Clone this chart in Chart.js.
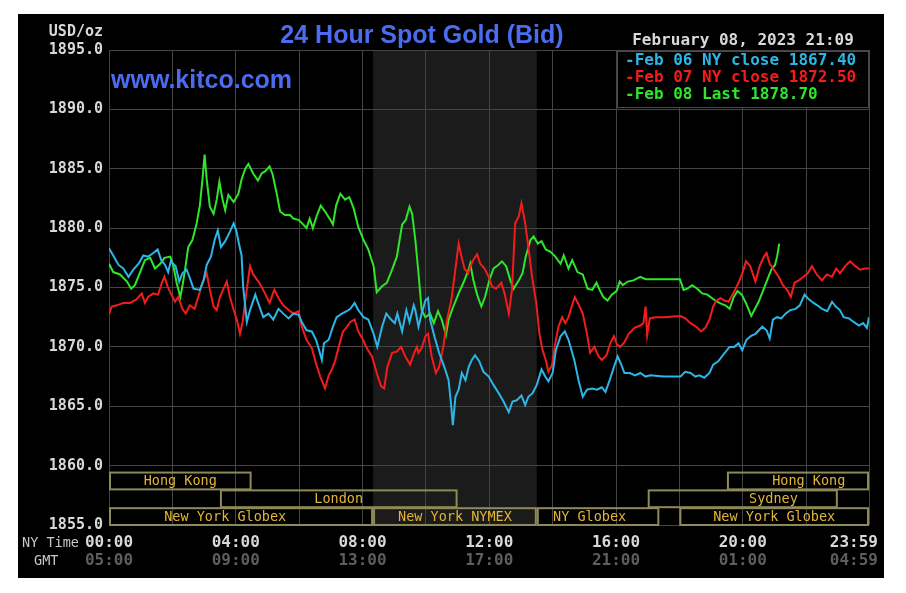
<!DOCTYPE html>
<html>
<head>
<meta charset="utf-8">
<title>24 Hour Spot Gold</title>
<style>
    html, body { margin: 0; padding: 0; background: #fff; }
</style>
<script src="https://cdn.jsdelivr.net/npm/chart.js@4.4.0/dist/chart.umd.min.js"></script>
</head>
<body>
<canvas id="gold-chart" width="906" height="593"></canvas>
<script>
// minutes after NY midnight, price in USD/oz
const feb06Times = [0, 8, 18, 27, 37, 46, 56, 65, 74, 84, 92, 99, 106, 112, 117, 126, 133, 139, 147, 153, 160, 172, 179, 185, 193, 200, 206, 212, 220, 229, 236, 241, 246, 251, 254, 261, 267, 277, 284,
    292, 302, 311, 321, 330, 340, 349, 359, 365, 374, 384, 392, 398, 403, 407, 416, 424, 431, 441, 450, 457, 465, 472, 482, 491, 501, 508, 517, 525, 534, 541, 546, 555, 563, 569, 577,
    580, 586, 592, 599, 604, 608, 616, 625, 635, 643, 648, 651, 656, 662, 668, 675, 681, 687, 693, 701, 709, 719, 728, 738, 747, 757, 764, 772, 781, 788, 794, 802, 810, 819, 826, 832, 840, 846, 855, 863, 870,
    881, 889, 897, 905, 915, 924, 933, 940, 948, 956, 963, 969, 976, 986, 996, 1006, 1016, 1025, 1050, 1082, 1091, 1101, 1110, 1118, 1127, 1137, 1144, 1154,
    1164, 1175, 1184, 1192, 1199, 1207, 1215, 1224, 1237, 1245, 1251, 1257, 1265, 1273, 1281, 1290, 1300, 1308, 1317, 1323, 1331, 1341, 1350, 1360, 1369, 1376, 1384, 1391, 1401, 1410, 1420, 1428, 1435, 1439];
const feb06Values = [1878.3, 1877.7, 1876.9, 1876.6, 1875.9, 1876.5, 1877.0, 1877.7, 1877.6, 1877.9, 1878.2, 1877.3, 1876.9, 1876.3, 1877.2, 1876.8, 1875.5, 1876.2, 1876.5, 1875.8, 1874.9, 1874.8, 1875.6, 1876.9, 1877.6, 1879.0, 1879.8, 1878.4, 1878.9, 1879.7, 1880.4, 1879.8, 1878.7, 1877.7, 1875.1, 1872.1, 1873.1, 1874.4, 1873.5,
    1872.5, 1872.8, 1872.3, 1873.2, 1872.8, 1872.4, 1872.8, 1872.7, 1872.1, 1871.4, 1871.3, 1870.6, 1869.7, 1868.9, 1870.3, 1870.6, 1871.7, 1872.5, 1872.8, 1873.0, 1873.2, 1873.7, 1873.1, 1872.5, 1872.3, 1871.1, 1870.0, 1871.7, 1872.8, 1872.3, 1872.0, 1872.8, 1871.3, 1873.1, 1872.1, 1873.5,
    1873.1, 1871.7, 1872.8, 1873.9, 1874.1, 1872.3, 1870.9, 1869.5, 1868.3, 1867.2, 1865.0, 1863.4, 1865.8, 1866.4, 1867.8, 1867.2, 1868.3, 1868.9, 1869.3, 1868.8, 1867.9, 1867.5, 1866.8, 1866.1, 1865.4, 1864.5, 1865.4, 1865.5, 1865.9, 1865.1, 1865.8, 1866.1, 1866.8, 1868.1, 1867.5, 1867.1, 1867.8, 1869.7, 1870.9, 1871.3, 1870.6,
    1868.9, 1867.2, 1865.8, 1866.4, 1866.5, 1866.4, 1866.6, 1866.2, 1867.2, 1868.3, 1869.2, 1868.6, 1867.8, 1867.8, 1867.6, 1867.8, 1867.5, 1867.6, 1867.5, 1867.5, 1867.9, 1867.8, 1867.5, 1867.6, 1867.4, 1867.8, 1868.5, 1868.8,
    1869.4, 1870.0, 1870.0, 1870.3, 1869.7, 1870.6, 1870.9, 1871.1, 1871.7, 1871.4, 1870.7, 1872.3, 1872.5, 1872.4, 1872.8, 1873.1, 1873.2, 1873.5, 1874.4, 1874.1, 1873.8, 1873.5, 1873.2, 1873.0, 1873.8, 1873.4, 1873.1, 1872.5, 1872.4, 1872.1, 1871.8, 1872.0, 1871.6, 1872.5];

const feb07Times = [0, 5, 15, 27, 40, 52, 62, 68, 74, 84, 93, 100, 105, 111, 117, 125, 131, 139, 145, 153, 162, 169, 177, 185, 191, 198, 204, 210, 217, 223, 229, 236, 242, 248, 253, 259, 267, 273, 283,
    292, 304, 313, 321, 330, 340, 349, 359, 365, 374, 384, 392, 400, 409, 416, 422, 428, 435, 443, 449, 457, 465, 472, 481, 488, 498, 507, 515, 521, 527, 536, 545, 553, 561, 570, 578, 583,
    586, 592, 599, 604, 611, 619, 625, 633, 640, 648, 654, 662, 667, 673, 680, 688, 697, 703, 711, 719, 725, 733, 743, 749, 757, 763, 769, 776, 781, 788, 794, 801, 809, 815, 821, 827, 832, 839, 845, 851, 858, 864, 870, 876, 882,
    891, 897, 905, 911, 919, 927, 933, 942, 949, 956, 962, 968, 976, 984, 995, 1006, 1012, 1016, 1019, 1024, 1035, 1050, 1082, 1091, 1101, 1112, 1121, 1129, 1137, 1144, 1150, 1158, 1165, 1173,
    1183, 1192, 1200, 1206, 1214, 1224, 1232, 1240, 1245, 1251, 1259, 1268, 1276, 1284, 1291, 1298, 1306, 1315, 1323, 1331, 1340, 1350, 1359, 1369, 1377, 1384, 1394, 1403, 1413, 1422, 1431, 1439];
const feb07Values = [1872.7, 1873.4, 1873.5, 1873.7, 1873.7, 1874.0, 1874.5, 1873.7, 1874.2, 1874.5, 1874.4, 1875.4, 1875.9, 1875.1, 1874.5, 1873.8, 1874.2, 1873.2, 1872.8, 1873.5, 1873.2, 1874.2, 1875.4, 1876.2, 1874.8, 1873.4, 1873.1, 1874.2, 1874.9, 1875.5, 1874.2, 1873.1, 1872.3, 1871.1, 1872.1, 1874.2, 1876.8, 1876.1, 1875.5,
    1874.8, 1873.7, 1874.8, 1874.1, 1873.5, 1873.1, 1872.8, 1873.0, 1871.7, 1870.6, 1869.9, 1868.6, 1867.5, 1866.5, 1867.6, 1868.1, 1868.8, 1870.0, 1871.3, 1871.6, 1872.1, 1872.3, 1871.3, 1870.6, 1869.9, 1869.2, 1867.8, 1866.7, 1866.5, 1868.3, 1869.5, 1869.6, 1870.0, 1869.2, 1868.5, 1869.5, 1870.0,
    1869.5, 1869.9, 1870.9, 1871.1, 1869.2, 1867.8, 1868.3, 1870.0, 1872.3, 1873.9, 1875.9, 1878.7, 1877.7, 1876.6, 1876.2, 1877.2, 1877.8, 1877.0, 1876.6, 1875.9, 1875.1, 1874.9, 1875.4, 1874.5, 1872.8, 1874.8, 1880.4, 1881.0, 1882.1, 1880.4, 1878.4, 1875.9, 1873.7, 1871.1, 1869.7, 1868.9, 1867.9, 1868.5, 1870.3, 1871.7, 1872.5, 1872.0, 1872.5, 1873.4, 1874.2,
    1873.4, 1872.8, 1871.1, 1869.5, 1870.0, 1869.2, 1868.9, 1869.3, 1870.3, 1870.9, 1870.2, 1870.0, 1870.4, 1871.1, 1871.6, 1871.8, 1872.0, 1873.4, 1871.0, 1872.4, 1872.5, 1872.5, 1872.6, 1872.4, 1872.0, 1871.7, 1871.3, 1871.6, 1872.3, 1873.4, 1873.9, 1874.1, 1873.9, 1873.8,
    1874.6, 1875.4, 1876.3, 1877.2, 1876.8, 1875.5, 1876.8, 1877.6, 1877.9, 1877.0, 1876.5, 1875.9, 1875.2, 1874.8, 1874.2, 1875.4, 1875.6, 1875.9, 1876.2, 1876.8, 1876.1, 1875.6, 1876.1, 1875.9, 1876.6, 1876.2, 1876.8, 1877.2, 1876.8, 1876.5, 1876.6, 1876.6];

const feb08Times = [0, 8, 21, 34, 42, 49, 59, 68, 78, 87, 97, 105, 116, 122, 128, 135, 139, 144, 150, 158, 166, 172, 177, 181, 185, 191, 198, 204, 209, 215, 220, 226, 236, 245, 251, 258, 264, 273, 282, 289, 296,
    304, 310, 318, 324, 333, 343, 349, 359, 368, 374, 380, 386, 393, 401, 409, 419, 424, 430, 438, 447, 455, 463, 472, 482, 491, 501, 507, 517, 526, 536, 545, 555, 562, 569, 574, 580,
    586, 592, 599, 608, 615, 623, 630, 638, 643, 652, 662, 671, 681, 684, 690, 697, 705, 712, 720, 728, 737, 744, 752, 760, 766, 776, 783, 789, 798, 804, 812, 819, 827, 836, 845, 855, 861, 870,
    877, 887, 897, 906, 915, 923, 930, 936, 944, 952, 961, 967, 973, 982, 993, 1006, 1016, 1050, 1081, 1088, 1095, 1104, 1114, 1123, 1133, 1142, 1151, 1161,
    1167, 1175, 1183, 1190, 1198, 1206, 1216, 1222, 1230, 1239, 1246, 1254, 1261, 1265, 1269];
const feb08Values = [1877.0, 1876.3, 1876.1, 1875.5, 1874.9, 1875.2, 1876.3, 1877.3, 1877.5, 1876.6, 1877.0, 1877.5, 1877.6, 1876.8, 1875.4, 1874.2, 1875.1, 1876.5, 1878.4, 1879.0, 1880.4, 1881.9, 1884.1, 1886.2, 1884.1, 1881.8, 1881.2, 1882.4, 1883.9, 1882.4, 1881.5, 1882.8, 1882.2, 1882.9, 1884.1, 1885.0, 1885.4, 1884.6, 1884.0, 1884.6, 1884.8,
    1885.2, 1884.5, 1882.8, 1881.4, 1881.1, 1881.1, 1880.8, 1880.7, 1880.3, 1880.0, 1880.8, 1880.0, 1881.0, 1881.9, 1881.4, 1880.7, 1880.3, 1881.9, 1882.9, 1882.4, 1882.6, 1881.7, 1880.1, 1879.0, 1878.2, 1876.8, 1874.6, 1875.1, 1875.4, 1876.5, 1877.6, 1880.3, 1880.7, 1881.8, 1881.2, 1879.0,
    1876.2, 1873.1, 1872.5, 1872.8, 1872.0, 1873.0, 1872.3, 1871.0, 1872.3, 1873.4, 1874.5, 1875.4, 1876.5, 1877.0, 1875.6, 1874.4, 1873.4, 1874.2, 1875.6, 1876.6, 1876.9, 1877.2, 1876.8, 1875.6, 1874.9, 1875.6, 1876.2, 1877.6, 1879.0, 1879.3, 1878.7, 1878.9, 1878.2, 1878.0, 1877.6, 1877.0, 1877.7, 1876.6,
    1877.3, 1876.3, 1876.1, 1874.9, 1874.8, 1875.4, 1874.7, 1874.2, 1873.9, 1874.4, 1874.7, 1875.5, 1875.2, 1875.5, 1875.6, 1875.9, 1875.7, 1875.7, 1875.7, 1874.8, 1874.9, 1875.2, 1874.9, 1874.5, 1874.4, 1874.1, 1873.8, 1873.6,
    1873.5, 1873.2, 1874.2, 1874.7, 1874.4, 1873.7, 1872.6, 1873.1, 1873.8, 1874.8, 1875.6, 1876.5, 1876.9, 1877.6, 1878.7];

const seriesLabels = ['Feb 06 NY close 1867.40', 'Feb 07 NY close 1872.50', 'Feb 08 Last 1878.70'];
const seriesColors = ['#2cb6e8', '#f21c1c', '#2ee62a'];

const yMin = 1855;
const yMax = 1895;
const yStep = 5;
const xGridTimes = [0, 120, 240, 360, 480, 600, 720, 840, 960, 1080, 1200, 1320, 1439];
const xLabelTimes = [0, 240, 480, 720, 960, 1200, 1439];
const gmtOffset = 300;

// market sessions drawn in the bottom band (row 0 at top)
const sessions = [
    { name: 'Hong Kong', row: 0, start: 0, end: 270 },
    { name: 'Hong Kong', row: 0, start: 1170, end: 1439, mid: 1325 },
    { name: 'London', row: 1, start: 210, end: 660 },
    { name: 'Sydney', row: 1, start: 1020, end: 1380, mid: 1258 },
    { name: 'New York Globex', row: 2, start: 0, end: 500, mid: 220 },
    { name: 'New York NYMEX', row: 2, start: 500, end: 810 },
    { name: 'NY Globex', row: 2, start: 810, end: 1042, mid: 910 },
    { name: 'New York Globex', row: 2, start: 1080, end: 1439 }
];
const nymexShade = [500, 810];

function fmtTime(m) {
    m = ((m % 1440) + 1440) % 1440;
    let h = Math.floor(m / 60);
    let mm = m % 60;
    return String(h).padStart(2, '0') + ':' + String(mm).padStart(2, '0');
}

function toPoints(times, values) {
    return times.map((t, i) => ({ x: t, y: values[i] }));
}

const mono = "'DejaVu Sans Mono', 'Liberation Mono', monospace";
const sans = "'Liberation Sans', Arial, sans-serif";

const kitcoPlugin = {
    id: 'kitco',
    beforeDraw(chart) {
        let ctx = chart.ctx;
        let area = chart.chartArea;
        let x = chart.scales.x;
        ctx.save();
        ctx.fillStyle = '#ffffff';
        ctx.fillRect(0, 0, chart.width, chart.height);
        ctx.fillStyle = '#000000';
        ctx.fillRect(18, 14, 866, 564);
        // NYMEX trading hours shading
        ctx.fillStyle = '#1b1b1b';
        let x0 = x.getPixelForValue(nymexShade[0]);
        let x1 = x.getPixelForValue(nymexShade[1]);
        ctx.fillRect(x0, area.top, x1 - x0, area.bottom - area.top);
        ctx.restore();
    },
    afterDatasetsDraw(chart) {
        let ctx = chart.ctx;
        let x = chart.scales.x;
        let y = chart.scales.y;
        ctx.save();
        // session boxes
        ctx.lineWidth = 2;
        ctx.strokeStyle = '#8e8a58';
        ctx.font = '13.5px ' + mono;
        ctx.textAlign = 'center';
        ctx.textBaseline = 'middle';
        sessions.forEach(s => {
            let top = y.getPixelForValue(1859.5 - s.row * 1.5);
            let bottom = y.getPixelForValue(1858 - s.row * 1.5);
            let left = x.getPixelForValue(s.start) + 1;
            let right = x.getPixelForValue(s.end) - 1;
            ctx.strokeRect(left, top + 1, right - left, bottom - top - 1);
            ctx.fillStyle = '#e2b536';
            let mid = s.mid !== undefined ? s.mid : (s.start + s.end) / 2;
            ctx.fillText(s.name, x.getPixelForValue(mid), (top + bottom) / 2 + 1);
        });
        ctx.restore();
    },
    afterDraw(chart) {
        let ctx = chart.ctx;
        let area = chart.chartArea;
        let x = chart.scales.x;
        ctx.save();

        // title and site name
        ctx.textBaseline = 'middle';
        ctx.textAlign = 'center';
        ctx.fillStyle = '#4b6cf0';
        ctx.font = 'bold 25px ' + sans;
        ctx.fillText('24 Hour Spot Gold (Bid)', 422, 36);
        ctx.textAlign = 'left';
        ctx.fillText('www.kitco.com', 111, 81);

        // units
        ctx.fillStyle = '#d8d8d8';
        ctx.font = 'bold 15px ' + mono;
        ctx.textAlign = 'right';
        ctx.fillText('USD/oz', 103, 32);

        // legend box
        let lw = 252, lh = 56;
        let lx = area.right - lw, ly = area.top + 1;
        ctx.fillStyle = '#000000';
        ctx.fillRect(lx, ly, lw, lh);
        ctx.strokeStyle = '#4a4a4a';
        ctx.lineWidth = 1;
        ctx.strokeRect(lx + 0.5, ly + 0.5, lw - 1, lh);
        ctx.font = 'bold 16px ' + mono;
        ctx.textAlign = 'center';
        ctx.fillStyle = '#d8d8d8';
        ctx.fillText('February 08, 2023 21:09', lx + lw / 2, 41);
        ctx.textAlign = 'left';
        seriesLabels.forEach((label, i) => {
            ctx.fillStyle = seriesColors[i];
            ctx.fillText('-' + label, lx + 8, ly + 10 + i * 17);
        });

        // time axis labels, NY and GMT rows
        ctx.font = 'bold 16px ' + mono;
        xLabelTimes.forEach((t, i) => {
            let px = x.getPixelForValue(t);
            let last = i === xLabelTimes.length - 1;
            ctx.textAlign = last ? 'right' : 'center';
            let tx = last ? px + 9 : px;
            ctx.fillStyle = '#d8d8d8';
            ctx.fillText(fmtTime(t), tx, 543);
            ctx.fillStyle = '#5e5e5e';
            ctx.fillText(fmtTime(t + gmtOffset), tx, 561);
        });
        ctx.font = '13.5px ' + mono;
        ctx.fillStyle = '#c8c8c8';
        ctx.textAlign = 'left';
        ctx.fillText('NY Time', 22, 543);
        ctx.fillText('GMT', 34, 561);
        ctx.restore();
    }
};

let ctx = document.getElementById('gold-chart').getContext('2d');
window.myChart = new Chart(ctx, {
    type: 'line',
    data: {
        datasets: [
            { label: seriesLabels[0], data: toPoints(feb06Times, feb06Values), borderColor: seriesColors[0] },
            { label: seriesLabels[1], data: toPoints(feb07Times, feb07Values), borderColor: seriesColors[1] },
            { label: seriesLabels[2], data: toPoints(feb08Times, feb08Values), borderColor: seriesColors[2] }
        ]
    },
    options: {
        responsive: false,
        animation: false,
        devicePixelRatio: 1,
        layout: { padding: { left: 0, top: 50, right: 37, bottom: 0 } },
        elements: {
            point: { radius: 0 },
            line: { borderWidth: 2, tension: 0 }
        },
        scales: {
            x: {
                type: 'linear',
                min: 0,
                max: 1439,
                afterBuildTicks: function (scale) {
                    scale.ticks = xGridTimes.map(v => ({ value: v }));
                },
                afterFit: function (scale) {
                    scale.height = 68;
                },
                ticks: { display: false },
                grid: { color: '#454545', lineWidth: 1, drawTicks: false },
                border: { display: false }
            },
            y: {
                min: yMin,
                max: yMax,
                afterFit: function (scale) {
                    scale.width = 109;
                },
                ticks: {
                    stepSize: yStep,
                    padding: 6,
                    color: '#d8d8d8',
                    font: { family: mono, size: 15, weight: 'bold' },
                    callback: function (value) {
                        return value.toFixed(1);
                    }
                },
                grid: { color: '#454545', lineWidth: 1, drawTicks: false },
                border: { display: false }
            }
        },
        plugins: {
            legend: { display: false },
            title: { display: false },
            tooltip: { enabled: false }
        }
    },
    plugins: [kitcoPlugin]
});
</script>
</body>
</html>
